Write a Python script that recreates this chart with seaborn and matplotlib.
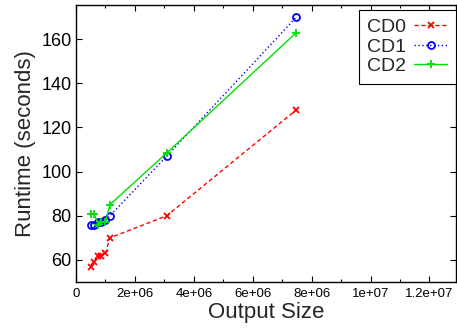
import numpy as np
import pandas as pd
import matplotlib
matplotlib.use("Agg")
import matplotlib.pyplot as plt
import seaborn as sns
from matplotlib.ticker import MultipleLocator

# Data
output_size = [0.50e6, 0.61e6, 0.75e6, 0.85e6, 1.00e6, 1.15e6, 3.08e6, 7.48e6]
cd0 = [57, 59, 62, 62, 63, 70, 80, 128]
cd1 = [76, 76, 77, 77, 78, 80, 107, 170]
cd2 = [81, 81, 76, 77, 77, 85, 108.5, 163]
series_names = ["CD0", "CD1", "CD2"]
x_ticks = [0, 2e6, 4e6, 6e6, 8e6, 1e7, 1.2e7]
x_tick_labels = ["0", "2e+06", "4e+06", "6e+06", "8e+06", "1e+07", "1.2e+07"]
y_ticks = [60, 80, 100, 120, 140, 160]

sns.set_theme(style="ticks")
plt.rcParams['font.family'] = ['Liberation Sans', 'DejaVu Sans']

fig = plt.figure(figsize=(4.57, 3.30), dpi=100)
ax = fig.add_axes([76 / 457, 1 - 282 / 330, (456 - 76) / 457, (282 - 5) / 330])

styles = {
    "CD0": dict(color="#ff0000", marker="x", ls=(0, (3, 2)), ms=4.5, mfc="#ff0000"),
    "CD1": dict(color="#0000ff", marker="o", ls=(0, (1, 1.8)), ms=5, mfc="none"),
    "CD2": dict(color="#00e000", marker="+", ls="-", ms=5.5, mfc="#00e000"),
}
handles = []
for name, vals in zip(series_names, [cd0, cd1, cd2]):
    st = styles[name]
    sns.lineplot(x=output_size, y=vals, ax=ax, color=st["color"], lw=1.0, sort=False,
                 legend=False)
    line = ax.lines[-1]
    line.set_linestyle(st["ls"])
    line.set_marker(st["marker"])
    line.set_markersize(st["ms"])
    line.set_markeredgewidth(1.3)
    line.set_markeredgecolor(st["color"])
    line.set_markerfacecolor(st["mfc"])
    line.set_label(name)
    handles.append(line)

ax.set_xlim(0, 1.29e7)
ax.set_ylim(50, 175.5)
ax.set_xticks(x_ticks)
ax.set_xticklabels(x_tick_labels)
ax.xaxis.set_minor_locator(MultipleLocator(1e6))
ax.set_yticks(y_ticks)

ax.tick_params(axis="both", which="both", direction="in", top=True, right=True, colors="black")
ax.tick_params(axis="x", which="major", length=4, width=0.8, labelsize=9.5, pad=4)
ax.tick_params(axis="x", which="minor", length=2, width=0.8)
ax.tick_params(axis="y", which="major", length=4, width=0.8, labelsize=13, pad=3)
for sp in ax.spines.values():
    sp.set_visible(True)
    sp.set_color("black")
    sp.set_linewidth(1.0)

ax.set_xlabel("Output Size", fontsize=16, labelpad=2)
ax.set_ylabel("Runtime (seconds)", fontsize=16, labelpad=4)

leg = ax.legend(handles=handles, loc="upper right", markerfirst=False, fontsize=14,
                frameon=True, fancybox=False, edgecolor="black", framealpha=1,
                borderpad=0.45, handlelength=1.7, handletextpad=0.4, labelspacing=0.1,
                bbox_to_anchor=(1.0, 0.983), borderaxespad=0.0)
leg.get_frame().set_linewidth(0.8)

fig.savefig("out.png", dpi=100)
